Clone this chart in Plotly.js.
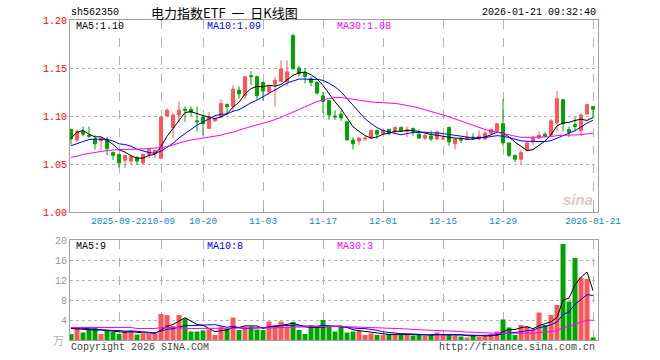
<!DOCTYPE html>
<html><head><meta charset="utf-8">
<script src="https://cdn.plot.ly/plotly-3.0.1.min.js"></script>
<style>html,body{margin:0;padding:0;background:#fff;}#chart{width:660px;height:360px;}</style>
</head><body><div id="chart"></div>
<script>
const dates = [
"2025-09-10","2025-09-11","2025-09-12","2025-09-15","2025-09-16","2025-09-17","2025-09-18","2025-09-19",
"2025-09-22","2025-09-23","2025-09-24","2025-09-25","2025-09-26","2025-09-29","2025-09-30",
"2025-10-09","2025-10-10","2025-10-13","2025-10-14","2025-10-15","2025-10-16","2025-10-17",
"2025-10-20","2025-10-21","2025-10-22","2025-10-23","2025-10-24","2025-10-27","2025-10-28","2025-10-29","2025-10-30","2025-10-31",
"2025-11-03","2025-11-04","2025-11-05","2025-11-06","2025-11-07","2025-11-10","2025-11-11","2025-11-12","2025-11-13","2025-11-14",
"2025-11-17","2025-11-18","2025-11-19","2025-11-20","2025-11-21","2025-11-24","2025-11-25","2025-11-26","2025-11-27","2025-11-28",
"2025-12-01","2025-12-02","2025-12-03","2025-12-04","2025-12-05","2025-12-08","2025-12-09","2025-12-10","2025-12-11","2025-12-12",
"2025-12-15","2025-12-16","2025-12-17","2025-12-18","2025-12-19","2025-12-22","2025-12-23","2025-12-24","2025-12-25","2025-12-26",
"2025-12-29","2025-12-30","2025-12-31",
"2026-01-05","2026-01-06","2026-01-07","2026-01-08","2026-01-09","2026-01-12","2026-01-13","2026-01-14","2026-01-15","2026-01-16",
"2026-01-19","2026-01-20","2026-01-21"];

const openP = [1.086,1.075,1.084,1.080,1.076,1.074,1.076,1.062,1.060,1.054,1.053,1.057,1.051,1.060,1.061,
1.056,1.100,1.088,1.101,1.107,1.107,1.095,1.099,1.087,1.095,1.099,1.112,1.110,1.127,1.121,1.142,1.141,
1.135,1.125,1.133,1.136,1.136,1.184,1.150,1.145,1.139,1.135,1.121,1.116,1.100,1.102,1.094,1.075,1.074,1.076,1.077,1.085,
1.082,1.086,1.084,1.088,1.084,1.087,1.081,1.077,1.079,1.076,1.076,1.088,1.071,1.076,1.076,1.078,1.076,1.076,1.082,1.084,
1.092,1.072,1.059,1.055,1.064,1.073,1.077,1.081,1.080,1.093,1.117,1.086,1.091,1.085,1.102,1.110];
const highP = [1.087,1.086,1.089,1.089,1.080,1.077,1.078,1.063,1.060,1.059,1.059,1.058,1.061,1.066,1.065,
1.099,1.108,1.103,1.115,1.110,1.110,1.110,1.099,1.104,1.098,1.117,1.113,1.132,1.131,1.141,1.147,1.142,
1.136,1.132,1.141,1.158,1.158,1.185,1.152,1.150,1.141,1.136,1.125,1.116,1.106,1.106,1.094,1.078,1.078,1.079,1.086,1.086,
1.086,1.087,1.089,1.089,1.089,1.088,1.086,1.081,1.085,1.085,1.080,1.089,1.076,1.078,1.084,1.082,1.085,1.085,1.087,1.092,
1.118,1.072,1.060,1.065,1.073,1.079,1.084,1.083,1.097,1.126,1.117,1.089,1.099,1.103,1.113,1.110];
const lowP = [1.070,1.073,1.079,1.077,1.065,1.065,1.059,1.054,1.046,1.046,1.049,1.049,1.050,1.056,1.056,
1.056,1.099,1.077,1.093,1.094,1.100,1.084,1.080,1.087,1.094,1.098,1.101,1.105,1.118,1.117,1.132,1.117,
1.116,1.122,1.110,1.136,1.131,1.149,1.141,1.134,1.131,1.122,1.103,1.096,1.096,1.095,1.075,1.065,1.070,1.074,1.076,1.076,
1.080,1.080,1.081,1.083,1.078,1.079,1.076,1.075,1.074,1.075,1.075,1.069,1.065,1.072,1.075,1.075,1.075,1.075,1.082,1.083,
1.069,1.057,1.052,1.050,1.063,1.070,1.076,1.078,1.080,1.084,1.084,1.078,1.084,1.079,1.102,1.099];
const closeP = [1.076,1.084,1.081,1.079,1.071,1.077,1.066,1.059,1.051,1.059,1.058,1.053,1.060,1.065,1.064,
1.099,1.106,1.101,1.106,1.106,1.104,1.094,1.092,1.099,1.097,1.113,1.110,1.128,1.123,1.141,1.141,1.121,
1.126,1.131,1.137,1.149,1.146,1.149,1.144,1.141,1.135,1.124,1.115,1.101,1.099,1.098,1.075,1.071,1.077,1.077,1.085,1.081,
1.085,1.082,1.088,1.084,1.086,1.084,1.077,1.080,1.076,1.083,1.077,1.073,1.076,1.075,1.078,1.077,1.079,1.082,1.086,1.092,
1.072,1.059,1.055,1.062,1.072,1.077,1.080,1.079,1.095,1.118,1.092,1.083,1.089,1.101,1.112,1.107];
const volume = [1.2,2.5,1.5,2.3,2.5,1.2,1.9,1.6,1.2,1.8,1.8,1.1,1.2,1.2,1.3,
5.2,5.0,2.8,5.0,4.3,1.7,1.7,1.9,2.1,1.0,2.7,2.3,4.5,2.0,2.7,2.7,2.1,
2.0,3.7,3.0,3.7,2.7,3.6,2.0,1.2,2.9,2.8,4.0,2.7,1.7,2.7,1.5,1.7,1.8,1.0,1.3,1.0,
1.0,1.2,1.2,1.0,1.2,0.9,1.0,0.9,1.0,1.5,1.0,1.2,0.9,0.7,0.5,0.9,0.6,0.9,1.2,1.7,
4.1,2.5,1.0,3.0,2.7,2.1,5.5,3.0,5.0,7.0,19.2,7.7,16.4,12.5,12.2,0.5];

// moving-average values before a full window exists
const ma5Head = [1.077,1.083,1.085,1.081];
const ma10Head = [1.069,1.071,1.073,1.0755,1.076,1.076,1.0755,1.074,1.071];
const ma30Head = [1.057,1.058,1.060,1.061,1.0625,1.0635,1.064,1.0646,1.065,1.065,1.0653,1.0654,1.0656,1.066,1.0665,
1.067,1.068,1.070,1.072,1.0736,1.075,1.076,1.077,1.078,1.079,1.080,1.082,1.083,1.0854];
const vma5Head = [2.3,2.2,2.1,2.0];
const vma10Head = [2.5,2.4,2.4,2.3,2.2,2.1,2.0,1.9,1.9];
const vma30Head = [2.5,2.5,2.5,2.5,2.5,2.5,2.5,2.5,2.5,2.5,2.5,2.3,2.3,2.3,2.3,2.5,2.5,2.5,2.5,2.3,2.3,2.3,2.3,2.3,2.3,2.3,2.3,2.3,2.3];

const tickDates = ["2025-09-22","2025-10-09","2025-10-20","2025-11-03","2025-11-17","2025-12-01","2025-12-15","2025-12-29","2026-01-21"];
const tickLabels = ["2025-09-22","10-09","10-20","11-03","11-17","12-01","12-15","12-29","2026-01-21"];
const priceTicks = [1.00,1.05,1.10,1.15,1.20];
const volTicks = [4,8,12,16,20];

function movingAvg(arr, n, head){
  return arr.map((v,i)=>{
    if(i < n-1) return head[i];
    let s=0; for(let k=i-n+1;k<=i;k++) s+=arr[k];
    return s/n;
  });
}

const RED='#ff5555', GREEN='#00a400', MONO='Liberation Mono, DejaVu Sans Mono, monospace';
const volColors = closeP.map((c,i)=> c>=openP[i] ? RED : GREEN);

const traces = [
  {type:'candlestick', x:dates, open:openP, high:highP, low:lowP, close:closeP, xaxis:'x', yaxis:'y',
   increasing:{line:{color:RED,width:1}, fillcolor:RED}, decreasing:{line:{color:GREEN,width:1}, fillcolor:GREEN},
   whiskerwidth:0, hoverinfo:'skip', showlegend:false},
  {type:'scatter', mode:'lines', x:dates, y:movingAvg(closeP,5,ma5Head), line:{color:'#000000',width:1}, xaxis:'x', yaxis:'y', hoverinfo:'skip', showlegend:false},
  {type:'scatter', mode:'lines', x:dates, y:movingAvg(closeP,10,ma10Head), line:{color:'#0000ff',width:1}, xaxis:'x', yaxis:'y', hoverinfo:'skip', showlegend:false},
  {type:'scatter', mode:'lines', x:dates, y:movingAvg(closeP,30,ma30Head), line:{color:'#ff00ff',width:1}, xaxis:'x', yaxis:'y', hoverinfo:'skip', showlegend:false},
  {type:'bar', x:dates, y:volume, marker:{color:volColors, line:{width:0}}, xaxis:'x2', yaxis:'y2', hoverinfo:'skip', showlegend:false},
  {type:'scatter', mode:'lines', x:dates, y:movingAvg(volume,5,vma5Head), line:{color:'#000000',width:1}, xaxis:'x2', yaxis:'y2', hoverinfo:'skip', showlegend:false},
  {type:'scatter', mode:'lines', x:dates, y:movingAvg(volume,10,vma10Head), line:{color:'#0000ff',width:1}, xaxis:'x2', yaxis:'y2', hoverinfo:'skip', showlegend:false},
  {type:'scatter', mode:'lines', x:dates, y:movingAvg(volume,30,vma30Head), line:{color:'#ff00ff',width:1}, xaxis:'x2', yaxis:'y2', hoverinfo:'skip', showlegend:false}
];

const xr = [-0.17, dates.length-1+0.83];
const frame = {showline:true, mirror:true, linecolor:'#a0a0a0', linewidth:1, zeroline:false, fixedrange:true};
const px = v => (v-70)/528;
const py = v => (340-v)/320;
function txt(text,x,y,color,xanchor,size,family){
  return {text:text, x:px(x), y:py(y), xref:'paper', yref:'paper', showarrow:false, xanchor:xanchor||'left', yanchor:'middle',
    font:{family:family||MONO, size:size||10, color:color}};
}
const NB = '\u00a0';

const layout = {
  width:660, height:360, margin:{l:70,r:62,t:20,b:20}, paper_bgcolor:'#fff', plot_bgcolor:'#fff',
  bargap:0.17, showlegend:false, dragmode:false,
  xaxis: Object.assign({}, frame, {type:'category', anchor:'y', domain:[0,1], range:xr, tickvals:tickDates, ticktext:tickLabels,
    tickangle:0, showgrid:true, gridcolor:'#b4b4b4', griddash:'dash', gridwidth:1, ticks:'inside', ticklen:3, tickcolor:'#a0a0a0',
    tickfont:{family:MONO, size:9.3, color:'#1185d2'}, rangeslider:{visible:false}}),
  yaxis: Object.assign({}, frame, {anchor:'x', domain:[0.4,1], range:[1.0,1.2], tickvals:priceTicks, ticktext:priceTicks.map(v=>v.toFixed(2)),
    showgrid:true, gridcolor:'#b4b4b4', griddash:'dot', gridwidth:1, ticks:'', tickfont:{family:MONO, size:10, color:'#ff0000'}}),
  xaxis2: Object.assign({}, frame, {type:'category', anchor:'y2', domain:[0,1], range:xr, tickvals:tickDates, showticklabels:false,
    showgrid:true, gridcolor:'#b4b4b4', griddash:'dash', gridwidth:1, ticks:''}),
  yaxis2: Object.assign({}, frame, {anchor:'x2', domain:[0,0.3125], range:[0,20], tickvals:volTicks, ticktext:volTicks.map(String),
    showgrid:true, gridcolor:'#b4b4b4', griddash:'dot', gridwidth:1, ticks:'', tickfont:{family:MONO, size:10, color:'#999999'}}),
  annotations: [
    txt('sh562350', 69, 12, '#000'),
    txt('电力指数ETF'+NB+NB+'一'+NB+NB+'日K线图', 149, 12, '#000', 'left', 13, 'Noto Sans CJK SC'),
    txt('2026-01-21 09:32:40', 598, 12, '#000', 'right'),
    txt('MA5:1.10', 74, 27, '#000'),
    txt('MA10:1.09', 205, 27, '#0000ff'),
    txt('MA30:1.08', 335, 27, '#ff00ff'),
    txt('MA5:9', 74, 246, '#000'),
    txt('MA10:8', 205, 246, '#0000ff'),
    txt('MA30:3', 335, 246, '#ff00ff'),
    txt('万', 66, 340, '#b0b0b0', 'right', 11, 'Noto Sans CJK SC'),
    txt('Copyright 2026 SINA.COM', 69, 347, '#444'),
    txt('http://finance.sina.com.cn', 597, 347, '#444', 'right'),
    {text:'<b><i>sina</i></b>', x:px(578), y:py(199), xref:'paper', yref:'paper', showarrow:false, xanchor:'center', yanchor:'middle',
     font:{family:'Liberation Sans', size:15, color:'rgba(200,120,120,0.45)'}}
  ]
};

Plotly.newPlot('chart', traces, layout, {staticPlot:true, displayModeBar:false});
</script></body></html>
